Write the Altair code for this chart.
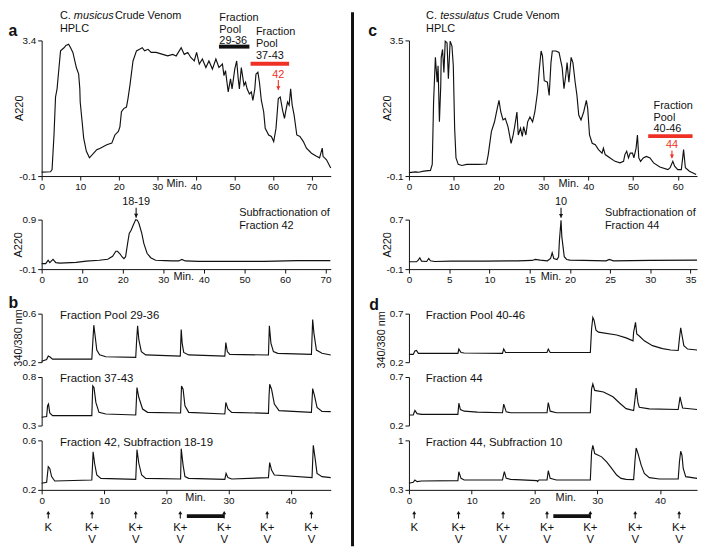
import altair as alt
import pandas as pd

FONT = "Liberation Sans"
INK = "#111111"
RED = "#ee3124"

# ---------------- data ----------------
# a: C. musicus crude venom HPLC (min, A220)
A_T = [0, 2.3, 2.7, 3.2, 3.6, 4.0, 4.5, 4.9, 5.8, 6.3,
       7.0, 7.5, 8.1, 9.0, 9.6, 9.9, 10.0, 10.5, 10.9, 11.6,
       12.4, 13.5, 14.3, 15.2, 16.9, 18.2, 19.0, 19.9, 20.3, 20.7,
       21.3, 22.0, 22.4, 22.9, 23.7, 24.6, 25.4, 26.1, 26.7, 27.6,
       28.4, 29.7, 31.4, 32.7, 34.0, 34.9, 36.2, 37.0, 37.9, 38.7,
       39.6, 40.2, 40.9, 41.7, 42.6, 43.4, 44.3, 45.2, 46.0, 46.9,
       47.3, 47.7, 48.4, 49.0, 49.4, 50.1, 50.6, 51.0, 51.3, 51.8,
       52.5, 52.9, 53.3, 53.9, 54.4, 54.8, 55.3, 55.6, 56.1, 56.5,
       57.0, 57.6, 58.0, 58.9, 59.6, 60.2, 60.8, 61.4, 61.9, 62.5,
       63.0, 63.3, 63.8, 64.2, 64.6, 65.0, 65.5, 66.2, 67.0, 67.9,
       68.7, 70.0, 71.3, 72.1, 72.8, 73.0, 73.9, 75.0]
A_V = [0.00, 0.01, 0.07, 0.96, 1.94, 2.15, 2.70, 3.13, 3.21, 3.27,
       3.30, 3.21, 3.09, 2.70, 2.53, 2.15, 1.81, 1.30, 0.88, 0.54,
       0.37, 0.49, 0.58, 0.62, 0.71, 0.75, 0.96, 1.05, 1.17, 1.56,
       1.64, 1.68, 1.90, 2.24, 2.87, 3.13, 3.17, 3.21, 3.13, 3.17,
       3.09, 3.09, 3.04, 3.00, 3.04, 3.00, 3.21, 3.04, 3.09, 2.96,
       2.87, 3.09, 2.79, 2.92, 2.70, 2.87, 2.66, 2.92, 2.70, 2.79,
       2.49, 2.62, 2.07, 2.41, 2.15, 2.66, 2.87, 2.41, 2.15, 2.70,
       2.24, 2.32, 2.15, 2.02, 2.07, 1.85, 2.15, 2.53, 2.58, 2.32,
       1.85, 1.56, 1.13, 0.96, 0.92, 0.79, 1.13, 1.90, 1.94, 1.60,
       1.39, 1.56, 1.81, 1.73, 2.15, 1.73, 1.47, 0.96, 0.92, 0.79,
       0.62, 0.49, 0.41, 0.37, 0.62, 0.41, 0.32, 0.11]

# a (sub): subfractionation of fraction 42
AS_T = [0, 1.0, 1.6, 2.0, 2.8, 3.5, 4.5, 8.5, 11.0, 14.2,
        16.3, 17.5, 18.3, 18.7, 19.3, 19.8, 20.3, 20.7, 21.2, 21.6,
        22.1, 22.6, 23.2, 23.6, 24.0, 24.7, 25.2, 26.0, 26.9, 28.1,
        30.5, 32.1, 33.8, 34.6, 35.4, 38.6, 46.8, 54.9, 63.0, 71.2]
AS_V = [0.01, 0.01, 0.08, 0.03, 0.095, 0.03, 0.02, 0.035, 0.06, 0.08,
        0.10, 0.16, 0.26, 0.26, 0.21, 0.15, 0.11, 0.15, 0.42, 0.62,
        0.69, 0.79, 0.90, 0.89, 0.82, 0.62, 0.42, 0.22, 0.13, 0.08,
        0.07, 0.065, 0.065, 0.095, 0.065, 0.055, 0.055, 0.055, 0.07, 0.07]

# c: C. tessulatus crude venom HPLC
C_T = [0, 1.5, 2.2, 3.3, 4.8, 5.2, 5.5, 5.9, 6.3, 6.5,
       6.8, 7.1, 7.2, 7.5, 7.8, 8.1, 8.5, 8.8, 9.2, 9.6,
       9.9, 10.2, 10.5, 11.0, 11.8, 12.9, 14.0, 15.5, 17.3, 17.7,
       18.4, 19.1, 19.7, 20.1, 20.5, 21.0, 21.5, 22.1, 22.8, 23.2,
       23.6, 24.1, 24.4, 24.9, 25.3, 25.6, 26.1, 26.5, 27.0, 27.6,
       28.1, 28.7, 29.1, 29.5, 29.8, 30.2, 30.9, 31.3, 31.7, 32.0,
       32.8, 33.5, 34.2, 34.6, 35.0, 35.3, 35.7, 36.2, 36.6, 37.1,
       37.5, 37.9, 38.4, 39.0, 39.6, 39.9, 40.3, 40.9, 41.6, 42.3,
       43.1, 43.4, 43.8, 44.9, 46.0, 47.1, 47.9, 48.2, 48.6, 49.0,
       49.4, 49.9, 50.2, 50.7, 51.0, 51.3, 51.7, 52.3, 53.0, 53.8,
       54.6, 56.0, 57.8, 58.3, 58.9, 59.3, 60.0, 60.8, 61.3, 61.7,
       62.6, 64.1]
C_V = [-0.01, 0.01, 0.00, 0.03, 0.05, 0.21, 1.87, 3.05, 2.39, 2.83,
       1.34, 2.30, 3.05, 3.26, 2.65, 3.48, 3.44, 2.48, 3.48, 3.35,
       2.83, 1.17, 0.38, 0.21, 0.18, 0.21, 0.21, 0.21, 0.22, 0.47,
       1.08, 1.34, 1.69, 1.91, 1.60, 1.39, 1.43, 1.21, 0.77, 0.95,
       1.21, 1.60, 0.99, 1.17, 0.95, 1.21, 0.99, 1.34, 1.47, 1.34,
       1.60, 2.13, 2.74, 3.22, 3.09, 2.43, 2.39, 2.04, 2.91, 3.22,
       3.22, 3.18, 2.78, 2.22, 2.57, 2.91, 2.39, 3.05, 2.91, 2.39,
       2.04, 1.52, 1.39, 1.60, 1.91, 1.69, 0.99, 0.77, 0.73, 0.60,
       0.51, 0.64, 0.47, 0.38, 0.29, 0.25, 0.29, 0.47, 0.56, 0.38,
       0.51, 0.51, 0.38, 0.64, 0.99, 0.38, 0.29, 0.38, 0.42, 0.38,
       0.25, 0.14, 0.07, 0.12, 0.29, 0.16, 0.07, 0.07, 0.60, 0.12,
       0.03, -0.06]

# c (sub): subfractionation of fraction 44
CS_T = [0, 0.94, 1.15, 1.35, 1.56, 2.2, 2.46, 2.67, 3.2, 5.25,
        9.4, 13.5, 15.3, 15.7, 16.3, 17.2, 17.6, 17.8, 18.0, 18.4,
        18.6, 18.7, 18.9, 19.0, 19.3, 19.6, 20.0, 21.7, 24.5, 24.9,
        25.4, 29.9, 35.8]
CS_V = [0.018, 0.018, 0.045, 0.082, 0.029, 0.023, 0.072, 0.034, 0.023, 0.029,
        0.029, 0.034, 0.040, 0.056, 0.045, 0.034, 0.072, 0.163, 0.072, 0.056,
        0.099, 0.367, 0.690, 0.420, 0.100, 0.056, 0.045, 0.040, 0.034, 0.056,
        0.034, 0.040, 0.045]

# b: Ca imaging (340/380 nm ratio)
B1_T = [0, 0.8, 1.06, 1.3, 1.75, 4.0, 8.05, 8.2, 8.37, 8.6,
        8.85, 9.3, 10.3, 15.1, 15.25, 15.4, 15.6, 16.0, 16.7, 22.25,
        22.4, 22.55, 22.8, 23.6, 29.4, 29.56, 29.8, 30.2, 36.4, 36.55,
        36.8, 37.2, 37.9, 43.3, 43.5, 43.7, 44.1, 45.0, 46.4]
B1_V = [0.208, 0.222, 0.25, 0.245, 0.225, 0.225, 0.225, 0.357, 0.505, 0.41,
        0.30, 0.26, 0.245, 0.24, 0.385, 0.50, 0.385, 0.287, 0.26, 0.25,
        0.47, 0.357, 0.28, 0.26, 0.25, 0.362, 0.287, 0.264, 0.259, 0.50,
        0.357, 0.287, 0.273, 0.264, 0.552, 0.44, 0.30, 0.273, 0.259]

B2_T = [0, 0.8, 0.95, 1.1, 1.3, 1.75, 4.0, 8.05, 8.2, 8.4,
        8.7, 9.2, 10.3, 15.1, 15.3, 15.6, 16.2, 17.0, 22.3, 22.45,
        22.7, 23.0, 23.6, 29.4, 29.56, 29.9, 30.5, 36.4, 36.5, 36.6,
        36.9, 37.35, 38.1, 43.3, 43.5, 43.8, 44.2, 45.0, 46.4]
B2_V = [0.385, 0.392, 0.504, 0.521, 0.429, 0.402, 0.402, 0.402, 0.708, 0.691,
        0.538, 0.436, 0.419, 0.409, 0.691, 0.589, 0.47, 0.436, 0.429, 0.708,
        0.674, 0.504, 0.436, 0.419, 0.538, 0.47, 0.436, 0.426, 0.606, 0.725,
        0.674, 0.521, 0.453, 0.436, 0.681, 0.606, 0.487, 0.446, 0.443]

B3_T = [0, 0.8, 1.06, 1.3, 1.6, 2.1, 8.05, 8.26, 8.5, 8.85,
        9.5, 15.1, 15.3, 15.6, 16.05, 16.7, 22.3, 22.4, 22.7, 23.0,
        23.6, 29.4, 29.6, 29.9, 30.5, 36.4, 36.6, 36.9, 37.35, 43.4,
        43.6, 43.9, 44.2, 45.0, 46.4]
B3_V = [0.253, 0.261, 0.387, 0.373, 0.307, 0.272, 0.28, 0.507, 0.413, 0.32,
        0.293, 0.285, 0.525, 0.413, 0.32, 0.293, 0.288, 0.533, 0.40, 0.307,
        0.293, 0.285, 0.333, 0.299, 0.288, 0.299, 0.421, 0.36, 0.32, 0.299,
        0.56, 0.453, 0.333, 0.307, 0.299]

# d: Ca imaging, C. tessulatus
D1_T = [0, 0.68, 0.95, 1.2, 1.5, 2.0, 7.8, 7.95, 8.3, 8.8,
        14.9, 15.1, 15.4, 22.0, 22.2, 22.5, 28.9, 29.1, 29.3, 29.5,
        29.8, 30.2, 33.1, 34.6, 35.7, 35.8, 36.1, 36.3, 36.7, 37.5,
        38.8, 40.4, 41.7, 42.9, 43.1, 43.3, 43.5, 43.8, 44.4, 45.9]
D1_V = [0.28, 0.28, 0.315, 0.32, 0.29, 0.29, 0.29, 0.335, 0.30, 0.295,
        0.29, 0.335, 0.30, 0.30, 0.335, 0.30, 0.30, 0.545, 0.66, 0.63,
        0.53, 0.51, 0.48, 0.45, 0.42, 0.51, 0.61, 0.49, 0.47, 0.42,
        0.37, 0.34, 0.325, 0.32, 0.445, 0.555, 0.48, 0.37, 0.335, 0.325]

D2_T = [0, 0.68, 0.95, 1.3, 2.0, 7.8, 7.95, 8.2, 8.8, 10.9,
        14.9, 15.1, 15.5, 16.2, 22.0, 22.2, 22.5, 23.5, 28.9, 29.1,
        29.3, 29.6, 31.0, 32.5, 33.6, 34.6, 35.8, 36.0, 36.2, 36.5,
        36.7, 38.3, 42.9, 43.2, 43.3, 43.6, 45.9]
D2_V = [0.309, 0.309, 0.355, 0.322, 0.315, 0.315, 0.43, 0.365, 0.348, 0.338,
        0.332, 0.42, 0.341, 0.332, 0.332, 0.437, 0.348, 0.332, 0.332, 0.578,
        0.628, 0.562, 0.545, 0.496, 0.43, 0.374, 0.355, 0.463, 0.585, 0.43,
        0.388, 0.371, 0.365, 0.496, 0.463, 0.381, 0.365]

D3_T = [0, 0.68, 0.95, 1.3, 2.0, 7.8, 7.95, 8.3, 8.8, 14.9,
        15.2, 15.5, 16.2, 20.4, 20.5, 20.7, 22.0, 22.2, 22.5, 23.5,
        28.9, 29.1, 29.3, 29.6, 30.7, 31.5, 32.3, 33.1, 33.8, 34.6,
        35.8, 36.0, 36.2, 36.5, 37.0, 37.5, 38.3, 39.9, 42.9, 43.1,
        43.3, 43.5, 43.7, 44.1, 45.9]
D3_V = [0.393, 0.407, 0.44, 0.417, 0.426, 0.431, 0.557, 0.463, 0.44, 0.44,
        0.557, 0.463, 0.449, 0.431, 0.417, 0.44, 0.44, 0.571, 0.463, 0.44,
        0.44, 0.837, 0.93, 0.813, 0.767, 0.697, 0.603, 0.51, 0.463, 0.449,
        0.445, 0.697, 0.893, 0.813, 0.65, 0.533, 0.473, 0.454, 0.454, 0.697,
        0.846, 0.79, 0.603, 0.487, 0.463]

# stimulus arrows
ARROW_LABELS_TOP = ["K", "K+", "K+", "K+", "K+", "K+", "K+"]
ARROW_LABELS_BOT = ["", "V", "V", "V", "V", "V", "V"]
ARROW_T_LEFT = [1.06, 8.1, 15.1, 22.25, 29.3, 36.2, 43.3]
ARROW_T_RIGHT = [0.84, 7.9, 15.0, 22.0, 28.9, 36.05, 43.05]
BAR_LEFT = [23.3, 29.3]
BAR_RIGHT = [23.0, 28.9]

# ---------------- helpers ----------------
WL, WR = 292, 291
LABEL_EXPR = ("datum.value < 0 ? '-' + format(-datum.value, '.1f') : "
              "(datum.value == 1 ? '1' : format(datum.value, '.1f'))")


def xaxis(values, title_x):
    return alt.Axis(values=values, title="Min.", titleX=title_x, titleY=11,
                    titleBaseline="alphabetic", titleAlign="center",
                    labelFlush=False, labelOverlap=False, tickSize=4,
                    labelPadding=2)


def yaxis(values, title=None, tx=-18, ty=25):
    if title is None:
        return alt.Axis(values=values, title=None, labelExpr=LABEL_EXPR,
                        tickSize=4, labelPadding=2, labelFlush=False)
    return alt.Axis(values=values, title=title, titleX=tx, titleY=ty,
                    titleAngle=-90, titleBaseline="bottom", titleAlign="center",
                    labelExpr=LABEL_EXPR, tickSize=4, labelPadding=2,
                    labelFlush=False)


def trace(t, v, xs, ys, xa, ya):
    df = pd.DataFrame({"t": t, "v": v})
    return alt.Chart(df).mark_line(color=INK, strokeWidth=1.15).encode(
        x=alt.X("t:Q", scale=xs, axis=xa),
        y=alt.Y("v:Q", scale=ys, axis=ya),
    )


def one():
    return alt.Chart(pd.DataFrame({"k": [0]}))


def ptext(txt, x, y, size=11, weight="normal", style="normal", color=INK,
          align="left", font=FONT):
    return one().mark_text(text=txt, fontSize=size, fontWeight=weight,
                           fontStyle=style, color=color, align=align,
                           baseline="alphabetic", font=font).encode(
        x=alt.value(x), y=alt.value(y))


def dtext(rows, xs, ys, size=11, color=INK, align="left"):
    df = pd.DataFrame(rows, columns=["txt", "t", "v"])
    return alt.Chart(df).mark_text(fontSize=size, color=color, align=align,
                                   baseline="alphabetic", font=FONT).encode(
        x=alt.X("t:Q", scale=xs), y=alt.Y("v:Q", scale=ys), text="txt:N")


def dbar(t1, t2, v, xs, ys, color, width=4):
    df = pd.DataFrame({"t": [t1], "t2": [t2], "v": [v]})
    return alt.Chart(df).mark_rule(color=color, strokeWidth=width).encode(
        x=alt.X("t:Q", scale=xs), x2="t2", y=alt.Y("v:Q", scale=ys))


def darrow(t, v_top, v_tip, xs, ys, color):
    df = pd.DataFrame({"t": [t], "v": [v_top], "v2": [v_tip]})
    shaft = alt.Chart(df).mark_rule(color=color, strokeWidth=1.1).encode(
        x=alt.X("t:Q", scale=xs), y=alt.Y("v:Q", scale=ys), y2="v2")
    head = alt.Chart(df).mark_point(shape="triangle-down", filled=True,
                                    size=18, color=color, opacity=1,
                                    yOffset=-2).encode(
        x=alt.X("t:Q", scale=xs), y=alt.Y("v2:Q", scale=ys))
    return shaft + head


def spacer(w, h):
    return one().mark_point(opacity=0).encode(
        x=alt.X("k:Q", axis=None), y=alt.Y("k:Q", axis=None)
    ).properties(width=w, height=h)


def arrows(times, bar, xs, w):
    df = pd.DataFrame({"t": times, "top": ARROW_LABELS_TOP,
                       "bot": ARROW_LABELS_BOT})
    base = alt.Chart(df)
    X = alt.X("t:Q", scale=xs, axis=None)
    shafts = base.mark_rule(color=INK, strokeWidth=1.1).encode(
        x=X, y=alt.value(7), y2=alt.value(13))
    heads = base.mark_point(shape="triangle-up", filled=True, size=16,
                            color=INK, opacity=1).encode(x=X, y=alt.value(7))
    k = base.mark_text(fontSize=11.5, font=FONT, baseline="alphabetic",
                       color=INK).encode(x=X, y=alt.value(26), text="top:N")
    v = base.mark_text(fontSize=11.5, font=FONT, baseline="alphabetic",
                       color=INK).encode(x=X, y=alt.value(38), text="bot:N")
    bdf = pd.DataFrame({"t": [bar[0]], "t2": [bar[1]]})
    b = alt.Chart(bdf).mark_rule(color=INK, strokeWidth=4).encode(
        x=X, x2="t2", y=alt.value(10.5))
    return alt.layer(b, shafts, heads, k, v).properties(width=w, height=40)


# ---------------- panel a ----------------
xa = alt.Scale(domain=[0, 75], nice=False)
ya = alt.Scale(domain=[-0.1, 3.4], nice=False)
panel_a = alt.layer(
    trace(A_T, A_V, xa, ya, xaxis(list(range(0, 71, 10)), 136),
          yaxis([-0.1, 3.4], "A220", -17, 68)),
    ptext("a", -33.5, -4, size=16, weight="bold"),
    ptext("C.", 18.5, -22),
    ptext("musicus", 32.5, -22, style="italic"),
    ptext("Crude Venom", 74, -22),
    ptext("HPLC", 18.5, -9),
    dtext([["Fraction", 46.1, 3.91], ["Pool", 46.1, 3.60],
           ["29-36", 46.1, 3.31]], xa, ya),
    dbar(46.0, 53.9, 3.24, xa, ya, INK),
    dtext([["Fraction", 55.6, 3.53], ["Pool", 55.6, 3.22],
           ["37-43", 55.6, 2.93]], xa, ya),
    dbar(54.2, 64.2, 2.80, xa, ya, RED),
    dtext([["42", 61.4, 2.43]], xa, ya, color=RED, align="center"),
    darrow(61.4, 2.38, 2.12, xa, ya, RED),
).properties(width=WL, height=137)

# ---------------- panel c ----------------
xc = alt.Scale(domain=[0, 64.3], nice=False)
yc = alt.Scale(domain=[-0.1, 3.5], nice=False)
panel_c = alt.layer(
    one().mark_rule(color=INK, strokeWidth=3).encode(
        x=alt.value(-57), y=alt.value(-28.5), y2=alt.value(511)),
    trace(C_T, C_V, xc, yc, xaxis(list(range(0, 61, 10)), 161),
          yaxis([-0.1, 3.5], "A220", -17, 68)),
    ptext("c", -41, -4, size=16, weight="bold"),
    ptext("C.", 17.3, -22),
    ptext("tessulatus", 31.5, -22, style="italic"),
    ptext("Crude Venom", 85, -22),
    ptext("HPLC", 17.3, -9),
    dtext([["Fraction", 54.6, 1.69], ["Pool", 54.6, 1.37],
           ["40-46", 54.6, 1.06]], xc, yc),
    dbar(53.4, 63.3, 0.96, xc, yc, RED),
    dtext([["44", 58.7, 0.64]], xc, yc, color=RED, align="center"),
    darrow(58.7, 0.58, 0.37, xc, yc, RED),
).properties(width=WR, height=137)

# ---------------- sub-fractionation panels ----------------
xas = alt.Scale(domain=[0, 71.3], nice=False)
yas = alt.Scale(domain=[-0.1, 0.9], nice=False)
panel_as = alt.layer(
    trace(AS_T, AS_V, xas, yas, xaxis(list(range(0, 71, 10)), 143),
          yaxis([-0.1, 0.9], "A220", -18, 25)),
    dtext([["18-19", 23.3, 1.2]], xas, yas, align="center"),
    darrow(23.3, 1.14, 0.94, xas, yas, INK),
    ptext("Subfractionation of", 199.5, -4),
    ptext("Fraction 42", 199.5, 9),
).properties(width=WL, height=50)

xcs = alt.Scale(domain=[0, 35.8], nice=False)
ycs = alt.Scale(domain=[-0.1, 0.7], nice=False)
panel_cs = alt.layer(
    trace(CS_T, CS_V, xcs, ycs, xaxis(list(range(0, 36, 5)), 143),
          yaxis([-0.1, 0.7], "A220", -17, 25)),
    dtext([["10", 18.9, 0.94]], xcs, ycs, align="center"),
    darrow(18.9, 0.89, 0.73, xcs, ycs, INK),
    ptext("Subfractionation of", 198, -4),
    ptext("Fraction 44", 198, 9),
).properties(width=WR, height=50)

# ---------------- calcium imaging panels ----------------
xb = alt.Scale(domain=[0, 46.4], nice=False)
xd = alt.Scale(domain=[0, 45.9], nice=False)


def yb(lo, hi):
    return alt.Scale(domain=[lo, hi], nice=False)


panel_b1 = alt.layer(
    trace(B1_T, B1_V, xb, yb(0.2, 0.6), None,
          yaxis([0.2, 0.6], "340/380 nm", -18.5, 24)),
    ptext("b", -33.5, -6, size=16, weight="bold"),
    ptext("Fraction Pool 29-36", 18.5, 5, size=11.5),
).properties(width=WL, height=49)
panel_b2 = alt.layer(
    trace(B2_T, B2_V, xb, yb(0.3, 0.8), None, yaxis([0.3, 0.8])),
    ptext("Fraction 37-43", 18.5, 5, size=11.5),
).properties(width=WL, height=49)
panel_b3 = alt.layer(
    trace(B3_T, B3_V, xb, yb(0.2, 0.6), xaxis([0, 10, 20, 30, 40], 155),
          yaxis([0.2, 0.6])),
    ptext("Fraction 42, Subfraction 18-19", 18.5, 6, size=11.5),
).properties(width=WL, height=50)

panel_d1 = alt.layer(
    trace(D1_T, D1_V, xd, yb(0.2, 0.7), None,
          yaxis([0.2, 0.7], "340/380 nm", -23, 26)),
    ptext("d", -40, -4, size=16, weight="bold"),
    ptext("Fraction Pool 40-46", 17, 5, size=11.5),
).properties(width=WR, height=49)
panel_d2 = alt.layer(
    trace(D2_T, D2_V, xd, yb(0.2, 0.7), None, yaxis([0.2, 0.7])),
    ptext("Fraction 44", 17, 5, size=11.5),
).properties(width=WR, height=49)
panel_d3 = alt.layer(
    trace(D3_T, D3_V, xd, yb(0.3, 1.0), xaxis([0, 10, 20, 30, 40], 158),
          yaxis([0.3, 1.0])),
    ptext("Fraction 44, Subfraction 10", 17, 6, size=11.5),
).properties(width=WR, height=50)

cells = [
    panel_a, panel_c,
    spacer(WL, 44), spacer(WR, 44),
    panel_as, panel_cs,
    spacer(WL, 45), spacer(WR, 45),
    panel_b1, panel_d1,
    spacer(WL, 15), spacer(WR, 15),
    panel_b2, panel_d2,
    spacer(WL, 15), spacer(WR, 15),
    panel_b3, panel_d3,
    spacer(WL, 16), spacer(WR, 16),
    arrows(ARROW_T_LEFT, BAR_LEFT, xb, WL), arrows(ARROW_T_RIGHT, BAR_RIGHT, xd, WR),
]

chart = alt.concat(
    *cells, columns=2, spacing={"row": 0, "column": 79}, bounds="flush",
    padding={"left": 0, "top": -1, "right": 0, "bottom": 0},
).configure_view(stroke=None).configure_axis(
    grid=False, labelFont=FONT, titleFont=FONT, labelFontSize=10,
    titleFontSize=11, titleFontWeight="normal", labelColor=INK,
    titleColor=INK, tickColor=INK, domainColor=INK, domainWidth=1,
    tickWidth=1,
).configure_text(font=FONT)

chart.save("out.html", embed_options={"renderer": "svg", "actions": False})
